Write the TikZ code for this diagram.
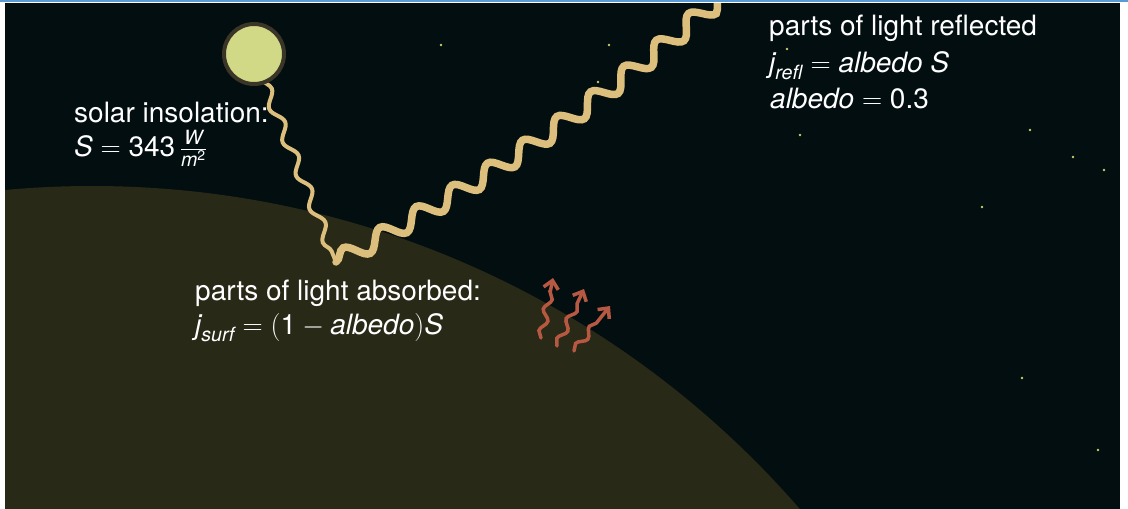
\RequirePackage{fix-cm}
\documentclass[tikz,border=0pt]{standalone}
\usepackage{amsmath}
\usepackage{fontspec}
\setmainfont{TeX Gyre Heros}
\usetikzlibrary{decorations.pathmorphing,arrows.meta}

\definecolor{sky}{RGB}{3,14,17}
\definecolor{ground}{RGB}{40,41,22}
\definecolor{beam}{RGB}{220,191,125}
\definecolor{sunfill}{RGB}{210,217,134}
\definecolor{sunrim}{RGB}{58,53,38}
\definecolor{heat}{RGB}{183,88,66}
\definecolor{star}{RGB}{200,205,110}
\definecolor{topline}{RGB}{91,155,213}

\newcommand{\vv}[1]{\text{\itshape #1}}

\begin{document}
\begin{tikzpicture}[x=1pt,y=-1pt,
  label/.style={text=white,anchor=base west,inner sep=0pt,
    font=\fontsize{28}{34}\selectfont},
  stardot/.style={fill=star,circle,inner sep=0pt,minimum size=2.6pt},
  incoming/.style={draw=beam,line width=4pt,line cap=round,
    decorate,decoration={snake,segment length=36pt,amplitude=5pt}},
  outgoing/.style={draw=beam,line width=7.5pt,line cap=round,
    decorate,decoration={snake,segment length=42pt,amplitude=9pt}},
  heatarrow/.style={draw=heat,line width=3.5pt,line cap=round,
    -{Straight Barb[length=8pt,width=15pt,line width=3.5pt]},
    decorate,decoration={snake,segment length=22pt,amplitude=3.5pt,
      post=lineto,post length=12pt}}]

% page and sky
\useasboundingbox (0,0) rectangle (1128,509);
\fill[white] (0,0) rectangle (1128,509);
\fill[topline] (0,0) rectangle (1128,1.6);
\fill[sky] (5,3) rectangle (1120,509);

% stars
\foreach \sx/\sy [count=\i] in {441/45,609/45,598/82,787/49,800/135,1030/130,
    1073/157,1104/170,982/207,1022/378,1098/450}
  \node[stardot] (star\i) at (\sx,\sy) {};

\begin{scope}
  \clip (5,3) rectangle (1120,509);
  % the earth
  \fill[ground] (92,1123) circle[radius=937pt];
  % light rays
  \coordinate (rayin) at (263,80);
  \coordinate (hit) at (336,262);
  \coordinate (rayout) at (722,-6);
  \draw[incoming] (rayin) -- (hit);
  \draw[outgoing] (hit) to[bend right=6] (rayout);
\end{scope}

% the sun
\node[circle,fill=sunfill,draw=sunrim,line width=4pt,minimum size=60pt,
  inner sep=0pt] (sun) at (254,54) {};

% heat radiated by the surface
\coordinate (h1a) at (541,338); \coordinate (h1b) at (553,278);
\coordinate (h2a) at (557,346); \coordinate (h2b) at (584,289);
\coordinate (h3a) at (574,351); \coordinate (h3b) at (610,306);
\draw[heatarrow] (h1a) -- (h1b);
\draw[heatarrow] (h2a) -- (h2b);
\draw[heatarrow] (h3a) -- (h3b);

% labels
\node[label] (ins1) at (74,122) {solar insolation:};
\node[label] (ins2) at (74,156) {$\vv{S} = \text{343}\,\frac{\vv{W}}{\vv{m}^{\text{2}}}$};

\node[label] (ref1) at (769,35) {parts of light reflected};
\node[label] (ref2) at (769,72) {$\vv{j}_{\vv{refl}} = \vv{albedo S}$};
\node[label] (ref3) at (770,108) {$\vv{albedo} = \text{0.3}$};

\node[label] (abs1) at (195,300) {parts of light absorbed:};
\node[label] (abs2) at (195,334) {$\vv{j}_{\vv{surf}} = (\text{1} - \vv{albedo})\vv{S}$};
\end{tikzpicture}
\end{document}
